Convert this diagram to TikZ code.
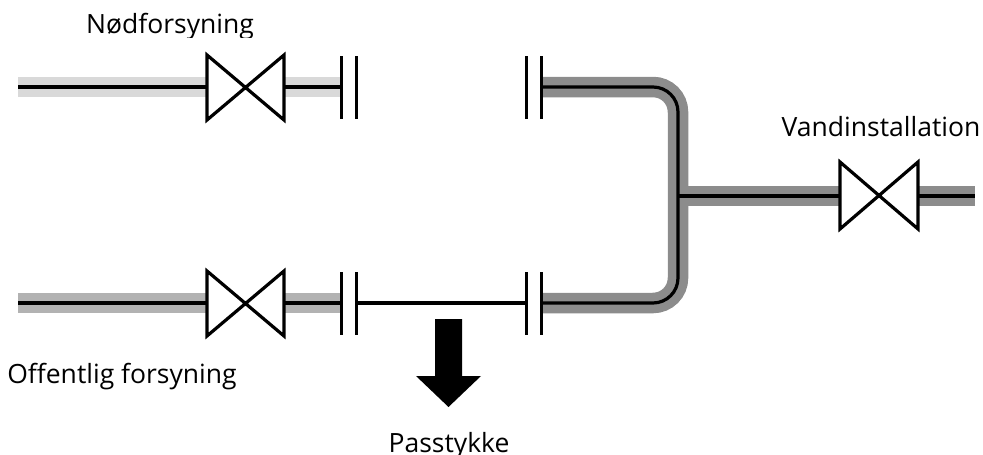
\documentclass[tikz,border=0pt]{standalone}
\usepackage{fontspec}
\setmainfont{Open Sans}
\tikzset{
  x=1pt,y=-1pt,
  band/.style={line width=20.5pt,line cap=butt},
  bandtop/.style={band,draw=black!15},
  bandlow/.style={band,draw=black!30},
  bandout/.style={band,draw=black!45},
  pipe/.style={line width=3.2pt,draw=black},
  valve/.style={draw=black,fill=white,line width=3.2pt,miter limit=10},
  flange/.style={draw=black,line width=3pt},
  lbl/.style={font=\fontsize{26.5}{30}\selectfont,inner sep=0pt,anchor=base,text=black},
}
\begin{document}
\begin{tikzpicture}
\useasboundingbox (0,0) rectangle (983,455);
% coordinates
\coordinate (a1) at (18,87);
\coordinate (av1) at (207,87);
\coordinate (av2) at (284,87);
\coordinate (a2) at (341.5,87);
\coordinate (b1) at (18,303);
\coordinate (bv1) at (207,303);
\coordinate (bv2) at (284,303);
\coordinate (b2) at (341.5,303);
\coordinate (c1) at (356.5,303);
\coordinate (c2) at (526.5,303);
\coordinate (d1) at (541.5,87);
\coordinate (d2) at (541.5,303);
\coordinate (dj) at (678,87);
\coordinate (ej) at (678,303);
\coordinate (j) at (678,196);
\coordinate (ev1) at (840,196);
\coordinate (ev2) at (918,196);
\coordinate (e2) at (975,196);
% bands
\draw[bandtop] (a1) -- (av1);
\draw[bandtop] (av2) -- (a2);
\draw[bandlow] (b1) -- (bv1);
\draw[bandlow] (bv2) -- (b2);
\draw[bandout] (j) -- (ev1);
\draw[bandout] (ev2) -- (e2);
\draw[bandout,rounded corners=25pt] (d1) -- (dj) -- (ej) -- (d2);
% lines
\draw[pipe] (a1) -- (av1);
\draw[pipe] (av2) -- (a2);
\draw[pipe] (b1) -- (bv1);
\draw[pipe] (bv2) -- (b2);
\draw[pipe] (c1) -- (c2);
\draw[pipe] (j) -- (ev1);
\draw[pipe] (ev2) -- (e2);
\draw[pipe,rounded corners=25pt] (d1) -- (dj) -- (ej) -- (d2);
% valves
\draw[valve] (207,55) -- (284,120) -- (284,55) -- (207,120) -- cycle;
\draw[valve] (207,271) -- (284,336) -- (284,271) -- (207,336) -- cycle;
\draw[valve] (840,162) -- (918,229) -- (918,162) -- (840,229) -- cycle;
% flanges
\draw[flange] (341.5,56) -- (341.5,119);
\draw[flange] (356.5,56) -- (356.5,119);
\draw[flange] (526.5,56) -- (526.5,119);
\draw[flange] (541.5,56) -- (541.5,119);
\draw[flange] (341.5,272) -- (341.5,335);
\draw[flange] (356.5,272) -- (356.5,335);
\draw[flange] (526.5,272) -- (526.5,335);
\draw[flange] (541.5,272) -- (541.5,335);
% arrow
\fill[black] (435,319) -- (462,319) -- (462,376) -- (481,376) -- (448.5,407) -- (416,376) -- (435,376) -- cycle;
% labels
\begin{scope}
\clip (0,0) rectangle (983,37);
\node[lbl] (nod) at (170,33) {Nødforsyning};
\end{scope}
\node[lbl] (off) at (122,383) {Offentlig forsyning};
\node[lbl] (van) at (881,136) {Vandinstallation};
\node[lbl] (pas) at (449,452) {Passtykke};
\end{tikzpicture}
\end{document}
